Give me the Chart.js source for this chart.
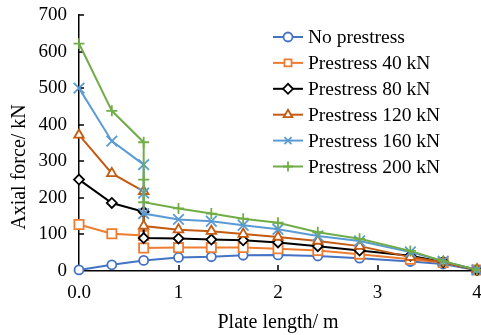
<!DOCTYPE html>
<html>
<head>
<meta charset="utf-8">
<script src="https://cdn.jsdelivr.net/npm/chart.js@4/dist/chart.umd.min.js"></script>
<style>
    html, body { margin: 0; padding: 0; background: #fff; }
    #wrap { width: 481px; height: 335px; }
</style>
</head>
<body>
<div id="wrap"><canvas id="axialChart" width="481" height="335"></canvas></div>
<script>
// plate positions (m); the 0.65 entry holds the step where the force drops
const plateX = [0, 0.33, 0.65, 1.0, 1.33, 1.65, 2.0, 2.4, 2.82, 3.33, 3.66, 4.0];

const seriesNames = ['No prestress', 'Prestress 40 kN', 'Prestress 80 kN',
    'Prestress 120 kN', 'Prestress 160 kN', 'Prestress 200 kN'];

const noPrestress = [3, 17, 29, 37, 39, 43, 44, 41, 35, 26, 19, 2];
const prestress40 = [127, 102, [97, 63], 64, 64, 64, 61, 56, 46, 32, 23, 3];
const prestress80 = [250, 186, [162, 90], 89, 86, 84, 78, 68, 56, 42, 25, 3];
const prestress120 = [372, 267, [218, 123], 113, 109, 101, 93, 82, 68, 38, 24, 4];
const prestress160 = [500, 355, [291, 213, 157], 141, 136, 125, 114, 96, 82, 52, 27, 3];
const prestress200 = [622, 438, [352, 250, 188], 171, 157, 143, 132, 106, 88, 55, 27, 3];

const yTicks = [0, 100, 200, 300, 400, 500, 600, 700];
const xTicks = [0, 1, 2, 3, 4];

const FONT = "'Liberation Serif', 'Times New Roman', serif";

const styles = [
    { color: '#4472C4', pointStyle: 'circle', radius: 4.5 },
    { color: '#ED7D31', pointStyle: 'rect', radius: 6.5 },
    { color: '#000000', pointStyle: 'rectRot', radius: 5 },
    { color: '#C55A11', pointStyle: 'triangle', radius: 5.5 },
    { color: '#5B9BD5', pointStyle: 'crossRot', radius: 7.5 },
    { color: '#70AD47', pointStyle: 'cross', radius: 5.5 }
];

function toPoints(values) {
    const pts = [];
    values.forEach((v, i) => {
        const list = Array.isArray(v) ? v : [v];
        list.forEach(y => pts.push({ x: plateX[i], y: y }));
    });
    return pts;
}

const allSeries = [noPrestress, prestress40, prestress80, prestress120, prestress160, prestress200];

const datasets = allSeries.map((values, i) => ({
    label: seriesNames[i],
    data: toPoints(values),
    showLine: true,
    borderColor: styles[i].color,
    backgroundColor: styles[i].color,
    borderWidth: 2,
    pointStyle: styles[i].pointStyle,
    pointRadius: styles[i].radius,
    pointHoverRadius: styles[i].radius,
    pointBorderColor: styles[i].color,
    pointBackgroundColor: '#ffffff',
    pointBorderWidth: 1.8,
    tension: 0,
    clip: false,
    order: allSeries.length - i
}));

// ticks pointing into the plot, like the original
const innerTicks = {
    id: 'innerTicks',
    beforeDatasetsDraw(chart) {
        const { ctx, chartArea, scales } = chart;
        ctx.save();
        ctx.strokeStyle = '#000';
        ctx.lineWidth = 1.5;
        ctx.beginPath();
        yTicks.forEach(v => {
            if (v === 0) return;
            const y = Math.round(scales.y.getPixelForValue(v));
            ctx.moveTo(chartArea.left, y);
            ctx.lineTo(chartArea.left + 5, y);
        });
        xTicks.forEach(v => {
            if (v === 0) return;
            const x = Math.round(scales.x.getPixelForValue(v));
            ctx.moveTo(x, chartArea.bottom);
            ctx.lineTo(x, chartArea.bottom - 6);
        });
        ctx.stroke();
        ctx.restore();
    }
};

// y title sits a bit lower than the axis centre in the original
const yTitle = {
    id: 'yTitle',
    afterDraw(chart) {
        const { ctx } = chart;
        ctx.save();
        ctx.translate(20, 167);
        ctx.rotate(-Math.PI / 2);
        ctx.font = '20px ' + FONT;
        ctx.fillStyle = '#000';
        ctx.textAlign = 'center';
        ctx.textBaseline = 'middle';
        ctx.fillText('Axial force/ kN', 0, 0);
        ctx.restore();
    }
};

// legend overlaid in the upper right, line + marker sample
const lineLegend = {
    id: 'lineLegend',
    afterDraw(chart) {
        const { ctx } = chart;
        ctx.save();
        ctx.font = '19.5px ' + FONT;
        ctx.textBaseline = 'middle';
        ctx.textAlign = 'left';
        chart.data.datasets.forEach((ds, i) => {
            const y = 37 + i * 25.9;
            ctx.strokeStyle = ds.borderColor;
            ctx.lineWidth = 2;
            ctx.beginPath();
            ctx.moveTo(273, y);
            ctx.lineTo(303, y);
            ctx.stroke();
            ctx.fillStyle = '#ffffff';
            ctx.strokeStyle = ds.borderColor;
            ctx.lineWidth = 1.8;
            Chart.helpers.drawPoint(ctx, {
                pointStyle: ds.pointStyle,
                radius: Math.min(ds.pointRadius, 5),
                rotation: 0,
                borderWidth: 1.8
            }, 288, y);
            ctx.fillStyle = '#000';
            ctx.fillText(ds.label, 308, y + 1);
        });
        ctx.restore();
    }
};

new Chart(document.getElementById('axialChart'), {
    type: 'scatter',
    data: { datasets: datasets },
    options: {
        responsive: false,
        animation: false,
        devicePixelRatio: 1,
        layout: { autoPadding: false, padding: { top: 15, right: 4, left: 0, bottom: 0 } },
        plugins: {
            legend: { display: false },
            tooltip: { enabled: false }
        },
        scales: {
            x: {
                type: 'linear',
                min: 0,
                max: 4,
                afterBuildTicks: s => { s.ticks = xTicks.map(v => ({ value: v })); },
                afterFit: s => { s.height = 64; s.paddingLeft = 0; s.paddingRight = 0; },
                grid: { display: false, drawTicks: false },
                border: { display: true, color: '#000', width: 1.5 },
                ticks: {
                    color: '#000',
                    padding: 11,
                    font: { family: FONT, size: 19 },
                    callback: v => (v === 0 ? '0.0' : String(v))
                },
                title: {
                    display: true,
                    text: 'Plate length/ m',
                    color: '#000',
                    padding: 0,
                    font: { family: FONT, size: 20 }
                }
            },
            y: {
                type: 'linear',
                min: 0,
                max: 700,
                afterBuildTicks: s => { s.ticks = yTicks.map(v => ({ value: v })); },
                afterFit: s => { s.width = 79; s.paddingTop = 0; s.paddingBottom = 0; },
                grid: { display: false, drawTicks: false },
                border: { display: true, color: '#000', width: 1.5 },
                ticks: {
                    color: '#000',
                    padding: 12,
                    font: { family: FONT, size: 19 }
                }
            }
        }
    },
    plugins: [innerTicks, yTitle, lineLegend]
});
</script>
</body>
</html>
